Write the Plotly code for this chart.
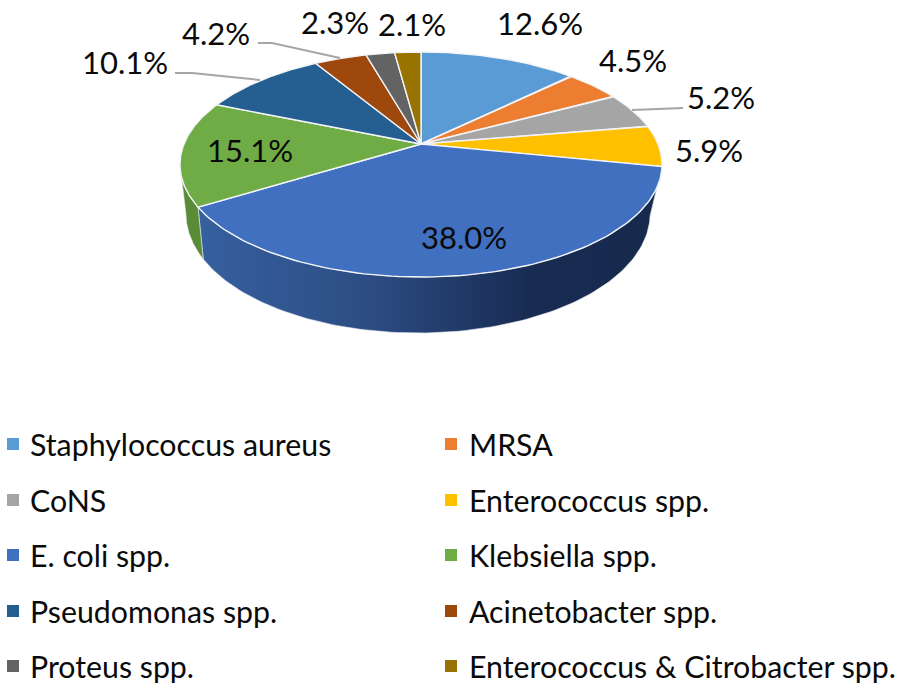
import numpy as np
import plotly.graph_objects as go

# Data
categories = ["Staphylococcus aureus", "MRSA", "CoNS", "Enterococcus spp.", "E. coli spp.",
              "Klebsiella spp.", "Pseudomonas spp.", "Acinetobacter spp.", "Proteus spp.",
              "Enterococcus & Citrobacter spp."]
values = [12.6, 4.5, 5.2, 5.9, 38.0, 15.1, 10.1, 4.2, 2.3, 2.1]
labels = ["12.6%", "4.5%", "5.2%", "5.9%", "38.0%", "15.1%", "10.1%", "4.2%", "2.3%", "2.1%"]

# Styles
colors = ["#5B9BD5", "#ED7D31", "#A5A5A5", "#FFC000", "#4170C0",
          "#6FAC46", "#255E91", "#9E480E", "#636363", "#997300"]
FONT = "Lato"
FS_LABEL = 31
FS_LEGEND = 30.3

# Layout geometry of the tilted pie, in page pixels
CX, CY, A, B, K = 421.0, 144.0, 237.0, 108.8, 0.182
BOT_CX, BOT_SCALE = 418.0, 0.963
label_xy = [(540, 23), (633, 60), (721, 97), (709, 150), (464, 237),
            (250, 150), (125, 62), (216, 33), (335, 22), (412, 24)]
legend_cols = [(13, 30), (451, 469)]
legend_rows = [444, 500, 555, 611, 666]
leaders = [[(175, 73), (192, 73), (260, 80)],
           [(258, 43), (272, 43), (340, 58)],
           [(632, 110), (683, 108)]]


def top_pts(theta):
    u, v = np.sin(theta), -np.cos(theta)
    w = 1 - K * v
    return CX + A * u / w, CY + B * v / w


def bottom_pts(theta):
    x, y = top_pts(theta)
    v = -np.cos(theta)
    return BOT_CX + BOT_SCALE * (x - CX), y + 47.5 + 8.5 * v


cum = np.concatenate([[0], np.cumsum(values)]) / sum(values) * 2 * np.pi
fig = go.Figure()

# Extruded side: only the part facing the viewer
SIL_R, SIL_L = np.arccos(-K), 2 * np.pi - np.arccos(-K)
for i in range(len(values)):
    t0, t1 = max(cum[i], SIL_R), min(cum[i + 1], SIL_L)
    if t1 <= t0:
        continue
    th = np.linspace(t0, t1, 120)
    xt, yt = top_pts(th)
    xb, yb = bottom_pts(th)
    kw = {}
    if categories[i] == "E. coli spp.":
        kw["fillgradient"] = dict(type="horizontal",
                                  colorscale=[[0, "#36609F"], [0.35, "#2D4E85"],
                                              [0.72, "#182B52"], [1, "#17294C"]])
    else:
        kw["fillcolor"] = "#5A8C38"
    fig.add_trace(go.Scatter(x=np.r_[xt, xb[::-1], xt[0]], y=np.r_[yt, yb[::-1], yt[0]],
                             mode="lines", fill="toself", line=dict(width=0.6, color="#E6EAF0"),
                             hoverinfo="skip", showlegend=False, **kw))

# Top face
for i in range(len(values)):
    th = np.linspace(cum[i], cum[i + 1], 100)
    x, y = top_pts(th)
    fig.add_trace(go.Scatter(x=np.r_[CX, x, CX], y=np.r_[CY, y, CY], mode="lines", fill="toself",
                             fillcolor=colors[i], line=dict(color="#F2F4F7", width=1.4),
                             name=categories[i], hoverinfo="name", showlegend=False))

# Leader lines
for pts in leaders:
    fig.add_trace(go.Scatter(x=[p[0] for p in pts], y=[p[1] for p in pts], mode="lines",
                             line=dict(color="#A6A6A6", width=2), hoverinfo="skip", showlegend=False))

# Legend
for i, name in enumerate(categories):
    mx, tx = legend_cols[i % 2]
    ry = legend_rows[i // 2]
    fig.add_trace(go.Scatter(x=[mx], y=[ry], mode="markers",
                             marker=dict(symbol="square", size=12, color=colors[i]),
                             hoverinfo="skip", showlegend=False))
    fig.add_annotation(x=tx, y=ry, text=name, showarrow=False, xanchor="left", yanchor="middle", xshift=-2,
                       font=dict(family=FONT, size=FS_LEGEND, color="#0A0A0A"))

# Percentage labels
for (lx, ly), t in zip(label_xy, labels):
    fig.add_annotation(x=lx, y=ly, text=t, showarrow=False, xanchor="center", yanchor="middle",
                       font=dict(family=FONT, size=FS_LABEL, color="#0A0A0A"))

fig.update_layout(width=902, height=687, margin=dict(l=0, r=0, t=0, b=0),
                  paper_bgcolor="white", plot_bgcolor="white", showlegend=False,
                  xaxis=dict(range=[0, 902], visible=False, fixedrange=True),
                  yaxis=dict(range=[687, 0], visible=False, fixedrange=True))
fig.write_html("out.html", config={"displayModeBar": False},
               post_script="document.body.style.margin='0';document.body.style.overflow='hidden';")
